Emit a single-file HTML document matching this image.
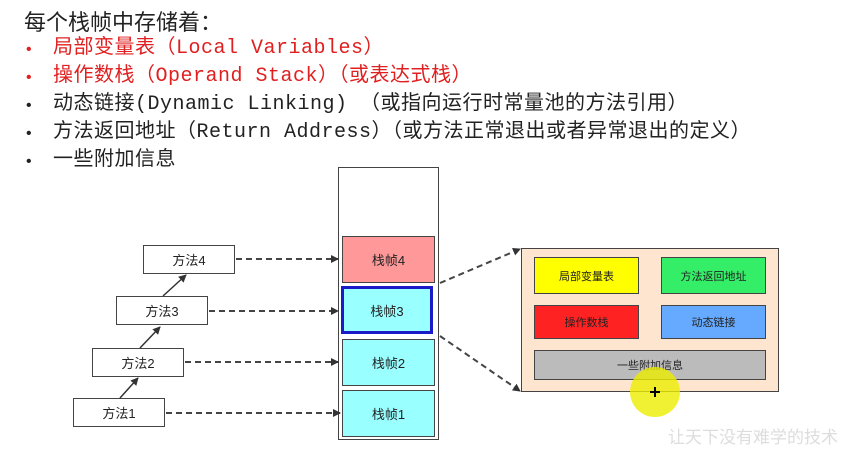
<!DOCTYPE html>
<html><head><meta charset="utf-8"><style>
body{margin:0;width:868px;height:453px;background:#fff;position:relative;overflow:hidden;font-family:"Liberation Sans","Noto Sans CJK SC",sans-serif}
.t{position:absolute;left:24px;top:5px;font-size:22px;white-space:nowrap;color:#222}
.l{position:absolute;left:30px;font-size:20px;letter-spacing:0.5px;white-space:nowrap;font-family:"Liberation Mono","Noto Sans CJK SC",monospace;color:#222;line-height:24px}
.l b{position:absolute;left:-6px;top:1px;font-weight:normal;font-size:16px}
.l span{margin-left:23px}
.r{color:#e02020}
.bx{position:absolute;box-sizing:border-box;border:1.5px solid #444;display:flex;align-items:center;justify-content:center;font-size:13px;color:#222}
</style></head><body>
<div class="t">每个栈帧中存储着：</div>
<div class="l r" style="top:37px"><b>•</b><span>局部变量表（Local Variables）</span></div>
<div class="l r" style="top:65px"><b>•</b><span>操作数栈（Operand Stack）（或表达式栈）</span></div>
<div class="l" style="top:93px"><b>•</b><span>动态链接(Dynamic Linking) （或指向运行时常量池的方法引用）</span></div>
<div class="l" style="top:121px"><b>•</b><span>方法返回地址（Return Address）（或方法正常退出或者异常退出的定义）</span></div>
<div class="l" style="top:149px"><b>•</b><span>一些附加信息</span></div>

<div class="bx" style="left:338px;top:167px;width:101px;height:273px;background:#fff"></div>
<div class="bx" style="left:342px;top:236px;width:93px;height:47px;background:#f99"> 栈帧4</div>
<div class="bx" style="left:341px;top:286px;width:92px;height:48px;background:#9ff;border:3px solid #1a1ac8">栈帧3</div>
<div class="bx" style="left:342px;top:339px;width:93px;height:47px;background:#9ff">栈帧2</div>
<div class="bx" style="left:342px;top:390px;width:93px;height:47px;background:#9ff">栈帧1</div>

<div class="bx" style="left:143px;top:245px;width:92px;height:29px;background:#fff">方法4</div>
<div class="bx" style="left:116px;top:296px;width:92px;height:29px;background:#fff">方法3</div>
<div class="bx" style="left:92px;top:348px;width:92px;height:29px;background:#fff">方法2</div>
<div class="bx" style="left:73px;top:398px;width:92px;height:29px;background:#fff">方法1</div>

<div class="bx" style="left:521px;top:248px;width:258px;height:144px;background:#fde5d0"></div>
<div class="bx" style="left:534px;top:257px;width:105px;height:37px;background:#ff0;font-size:11px">局部变量表</div>
<div class="bx" style="left:661px;top:257px;width:105px;height:37px;background:#3e6;font-size:11px">方法返回地址</div>
<div class="bx" style="left:534px;top:305px;width:105px;height:34px;background:#f22;font-size:11px">操作数栈</div>
<div class="bx" style="left:661px;top:305px;width:105px;height:34px;background:#6af;font-size:11px">动态链接</div>
<div class="bx" style="left:534px;top:350px;width:232px;height:30px;background:#bbb;font-size:11px">一些附加信息</div>

<svg width="868" height="453" style="position:absolute;left:0;top:0">
<defs><marker id="a" markerWidth="8" markerHeight="8" refX="7" refY="4" orient="auto" markerUnits="userSpaceOnUse"><path d="M0,0L8,4L0,8z" fill="#333"/></marker></defs>
<g stroke="#444" stroke-width="2" stroke-dasharray="6,4" fill="none" marker-end="url(#a)">
<line x1="236" y1="259" x2="338" y2="259"/>
<line x1="209" y1="311" x2="338" y2="311"/>
<line x1="185" y1="362" x2="338" y2="362"/>
<line x1="166" y1="413" x2="340" y2="413"/>
<line x1="440" y1="283" x2="520" y2="249"/>
<line x1="440" y1="336" x2="520" y2="391"/>
</g>
<g stroke="#333" stroke-width="1.5" marker-end="url(#a)">
<line x1="120" y1="398" x2="138" y2="378"/>
<line x1="140" y1="348" x2="160" y2="327"/>
<line x1="163" y1="296" x2="186" y2="275"/>
</g>
<circle cx="655" cy="392" r="25" fill="#ee0" opacity="0.8"/>
<path d="M650,392h10M655,387v10" stroke="#000" stroke-width="2"/>
<text x="668" y="443" font-size="17" fill="#ddd" font-family="Noto Sans CJK SC">让天下没有难学的技术</text>
</svg>
</body></html>
